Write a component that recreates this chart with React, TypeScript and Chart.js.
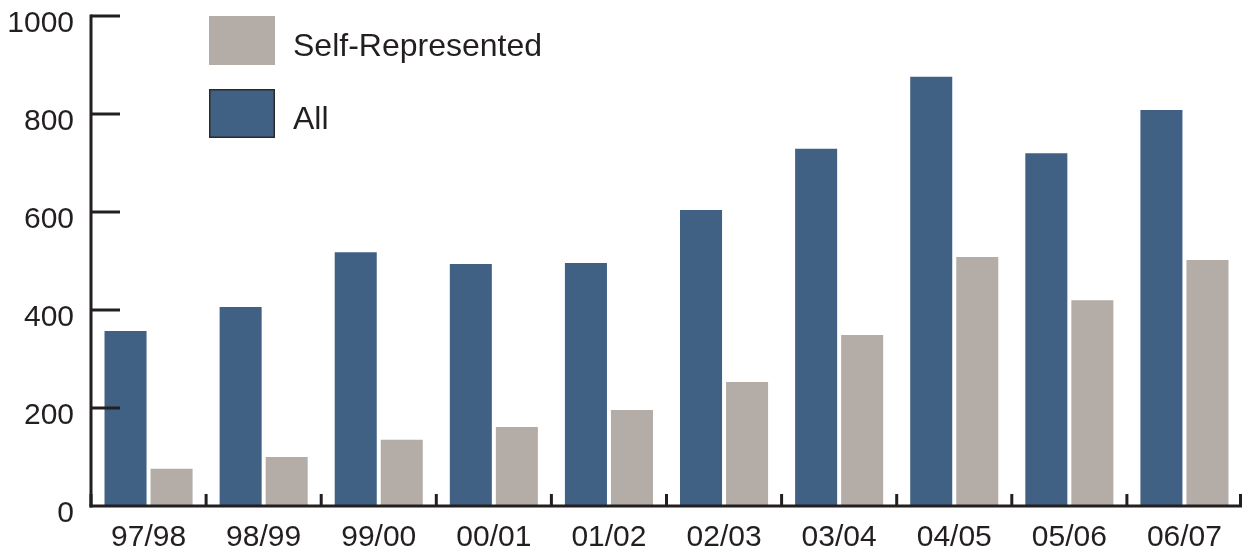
import React, { useEffect, useRef } from "react";
import { Chart, registerables } from "chart.js";

Chart.register(...registerables);

const categories = ["97/98", "98/99", "99/00", "00/01", "01/02", "02/03", "03/04", "04/05", "05/06", "06/07"];
const allCases = [357, 406, 518, 494, 496, 604, 729, 876, 720, 808];
const selfRepresented = [76, 100, 135, 161, 196, 253, 349, 508, 420, 502];
const yTicks = [0, 200, 400, 600, 800, 1000];

const BLUE = "#406184";
const GRAY = "#b4aca7";
const INK = "#231f20";
const FONT = "'Liberation Sans', Arial, Helvetica, sans-serif";

// Axis lines with inward ticks, plus the legend in the upper-left corner.
const frame = {
  id: "frame",
  afterDraw(chart: any) {
    const { ctx, chartArea, scales } = chart;
    const y = scales.y;
    ctx.save();
    ctx.strokeStyle = INK;
    ctx.lineWidth = 3;
    ctx.lineCap = "butt";

    // vertical axis
    ctx.beginPath();
    ctx.moveTo(chartArea.left, y.getPixelForValue(1000) - 1.5);
    ctx.lineTo(chartArea.left, chartArea.bottom + 1.5);
    ctx.stroke();

    // horizontal axis
    ctx.beginPath();
    ctx.moveTo(chartArea.left - 1.5, chartArea.bottom);
    ctx.lineTo(chartArea.right, chartArea.bottom);
    ctx.stroke();

    // y ticks pointing into the plot
    yTicks.forEach((v) => {
      if (v === 0) return;
      const py = y.getPixelForValue(v);
      ctx.beginPath();
      ctx.moveTo(chartArea.left, py);
      ctx.lineTo(chartArea.left + 29, py);
      ctx.stroke();
    });

    // x ticks at category boundaries, pointing up
    const n = categories.length;
    const step = (chartArea.right - chartArea.left) / n;
    for (let i = 0; i <= n; i++) {
      const px = i === n ? chartArea.right - 1.5 : chartArea.left + step * i;
      ctx.beginPath();
      ctx.moveTo(px, chartArea.bottom);
      ctx.lineTo(px, chartArea.bottom - 12);
      ctx.stroke();
    }

    // legend
    const items = [
      { label: "Self-Represented", color: GRAY, border: false, top: 16 },
      { label: "All", color: BLUE, border: true, top: 89 },
    ];
    ctx.font = `32px ${FONT}`;
    ctx.textBaseline = "middle";
    ctx.textAlign = "left";
    items.forEach((it) => {
      ctx.fillStyle = it.color;
      ctx.fillRect(209, it.top, 66, 49);
      if (it.border) {
        ctx.lineWidth = 1.5;
        ctx.strokeStyle = "#2b2b2b";
        ctx.strokeRect(209.75, it.top + 0.75, 64.5, 47.5);
      }
      ctx.fillStyle = INK;
      ctx.fillText(it.label, 293, it.top + 31);
    });
    ctx.restore();
  },
};

export default function App() {
  const ref = useRef<HTMLCanvasElement | null>(null);

  useEffect(() => {
    if (!ref.current) return;
    const chart = new Chart(ref.current, {
      type: "bar",
      data: {
        labels: categories,
        datasets: [
          { label: "All", data: allCases, backgroundColor: BLUE, borderWidth: 0 },
          { label: "Self-Represented", data: selfRepresented, backgroundColor: GRAY, borderWidth: 0 },
        ],
      },
      options: {
        animation: false,
        responsive: false,
        maintainAspectRatio: false,
        devicePixelRatio: 1,
        layout: { padding: { left: 0, right: 3, top: 16, bottom: 0 } },
        datasets: { bar: { categoryPercentage: 0.8, barPercentage: 0.913 } },
        plugins: { legend: { display: false }, tooltip: { enabled: false } },
        scales: {
          x: {
            grid: { display: false, drawTicks: false },
            border: { display: false },
            ticks: { color: INK, font: { family: FONT, size: 30 }, padding: 14, maxRotation: 0 },
            afterFit(scale: any) {
              scale.height = 46;
              scale.paddingLeft = 0;
              scale.paddingRight = 0;
            },
          },
          y: {
            min: 0,
            max: 1000,
            grid: { display: false, drawTicks: false },
            border: { display: false },
            afterBuildTicks(scale: any) {
              scale.ticks = yTicks.map((v) => ({ value: v }));
            },
            ticks: {
              color: INK,
              font: { family: FONT, size: 30 },
              padding: 17,
              labelOffset: 8,
              callback: (v: any) => String(v),
            },
            afterFit(scale: any) {
              scale.width = 91;
              scale.paddingTop = 0;
              scale.paddingBottom = 0;
            },
          },
        },
      },
      plugins: [frame],
    });
    return () => chart.destroy();
  }, []);

  return (
    <div style={{ position: "fixed", left: 0, top: 0, width: 1245, height: 552, background: "#fff" }}>
      <canvas ref={ref} width={1245} height={552} style={{ width: 1245, height: 552 }} />
    </div>
  );
}
